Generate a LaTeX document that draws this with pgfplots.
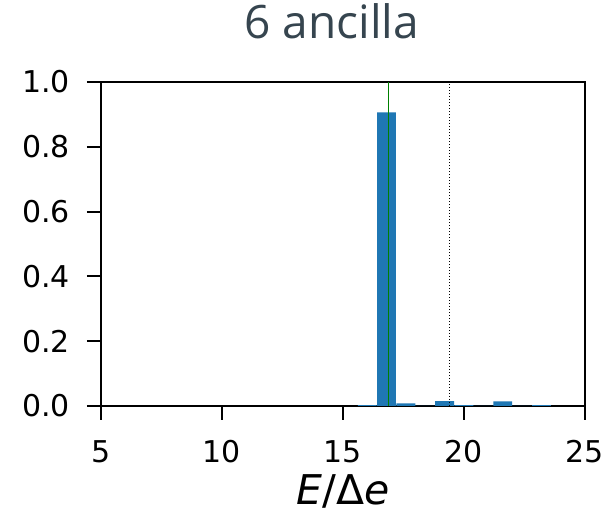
\documentclass[border=0pt]{standalone}
\usepackage{pgfplots}
\pgfplotsset{compat=1.18}
\usepackage{fontspec}
\setmainfont{DejaVu Sans}
\newfontfamily\titlefont{Open Sans}
\definecolor{mplblue}{HTML}{1F77B4}
\definecolor{titlecol}{HTML}{36454F}
\begin{document}
\begin{tikzpicture}[x=1pt,y=1pt]
\begin{axis}[
  at={(0,0)}, anchor=south west,
  scale only axis, width=484pt, height=324pt,
  xmin=5, xmax=25, ymin=0, ymax=1,
  xtick={5,10,15,20,25}, ytick={0,0.2,0.4,0.6,0.8,1.0},
  /pgf/number format/assume math mode=true,
  yticklabel style={/pgf/number format/fixed,/pgf/number format/fixed zerofill,/pgf/number format/precision=1,
     anchor=east, inner sep=0pt, xshift=-17pt},
  xticklabel style={anchor=north, inner sep=0pt, yshift=-20pt},
  tick label style={font=\fontsize{30}{34}\selectfont},
  tick align=outside, major tick length=14pt,
  tick style={line width=2pt, black},
  axis line style={line width=2pt},
  xtick pos=bottom, ytick pos=left,
  xlabel={\fontsize{41}{45}\selectfont\textit{E}/Δ\textit{e}},
  xlabel style={at={(axis description cs:0.5,0)}, anchor=base, inner sep=0pt, yshift=-99pt},
  title={\titlefont\fontsize{46}{50}\selectfont\color{titlecol}6 ancilla},
  title style={at={(axis description cs:0.5,1)}, anchor=base, inner sep=0pt, yshift=37pt, xshift=-11pt},
]
\addplot[ybar, bar width=0.78, fill=mplblue, draw=none, bar shift=0pt] coordinates {
 (16.0,0.003) (16.8,0.906) (17.6,0.008) (18.4,0.0) (19.2,0.015) (20.0,0.003)
 (20.8,0.0) (21.6,0.014) (22.4,0.0) (23.2,0.003)
};
\addplot[green!50!black, line width=1.3pt] coordinates {(16.87,0) (16.87,1)};
\addplot[black, dotted, line width=1pt] coordinates {(19.42,0) (19.42,1)};
\end{axis}
\pgfresetboundingbox
\path (-101,-107) rectangle (502,406);
\end{tikzpicture}
\end{document}
